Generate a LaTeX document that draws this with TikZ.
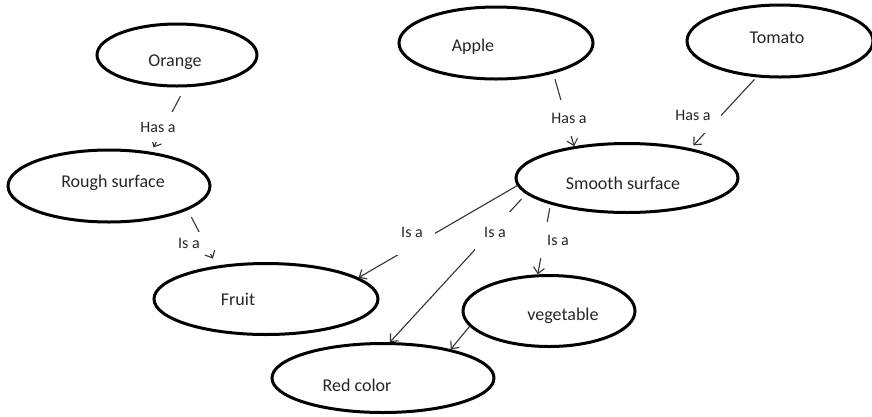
\documentclass[tikz,border=0pt]{standalone}
\usepackage{fontspec}
\setmainfont{Carlito}
\usetikzlibrary{arrows.meta, shapes.geometric}
\definecolor{inkcol}{HTML}{262626}
\definecolor{linkcol}{HTML}{333333}
\tikzset{
  cnode/.style={ellipse, draw=black, line width=3pt, inner sep=0pt},
  ctext/.style={text=inkcol, font=\fontsize{18}{20}\selectfont, inner sep=0pt},
  rel/.style={fill=white, inner sep=0pt, text=inkcol, font=\fontsize{16}{18}\selectfont},
  link/.style={draw=linkcol, line width=1.1pt, -{Straight Barb[length=6pt, width=11pt]}},
}

\begin{document}
\begin{tikzpicture}[x=1pt, y=-1pt]
  \useasboundingbox (0,0) rectangle (872,416);
  % concepts
  \node[cnode, minimum width=160pt, minimum height=62pt, label={[ctext, shift={(-2,7)}]center:Orange}] (orange) at (177,55) {};
  \node[cnode, minimum width=194pt, minimum height=72pt, label={[ctext, shift={(-23,4)}]center:Apple}] (apple) at (496,43) {};
  \node[cnode, minimum width=186pt, minimum height=72pt, label={[ctext, shift={(-3,-3)}]center:Tomato}] (tomato) at (780,41) {};
  \node[cnode, minimum width=202pt, minimum height=72pt, label={[ctext, shift={(4,-3)}]center:Rough surface}] (rough) at (109,186) {};
  \node[cnode, minimum width=222pt, minimum height=69pt, label={[ctext, shift={(-4,5)}]center:Smooth surface}] (smooth) at (627,178) {};
  \node[cnode, minimum width=224pt, minimum height=71pt, label={[ctext, shift={(-28,0)}]center:Fruit}] (fruit) at (266,299) {};
  \node[cnode, minimum width=172pt, minimum height=71pt, label={[ctext, shift={(14,5)}]center:vegetable}] (veg) at (549,311) {};
  \node[cnode, minimum width=222pt, minimum height=69pt, label={[ctext, shift={(-26,7)}]center:Red color}] (red) at (383,378) {};

  % relations
  \draw[link, shorten <=10pt, shorten >=5pt] (orange.-76) -- (rough.39)
    node[rel, minimum width=36pt, minimum height=30pt] at (158,127) {Has a};
  \draw[link, shorten <=8pt, shorten >=8pt] (rough.-17) -- (fruit.146)
    node[rel, minimum width=48pt, minimum height=22pt] at (189,243) {Is a};
  \draw[link, shorten <=6pt] (apple.-28) -- (smooth.149)
    node[rel, minimum width=40pt, minimum height=36pt] at (569,118) {Has a};
  \draw[link, shorten <=3pt, shorten >=4pt] (tomato.-123) -- (smooth.25)
    node[rel, minimum width=56pt, minimum height=36pt] at (693,115) {Has a};
  \draw[link] (smooth.-176) -- (fruit.13)
    node[rel, minimum width=46pt, minimum height=46pt] at (412,232) {Is a};
  \draw[link, shorten <=7pt] (smooth.-171) -- (red.79)
    node[rel, minimum width=40pt, minimum height=40pt] at (495,232) {Is a};
  \draw[link, shorten <=4pt] (smooth.-161) -- (veg.107)
    node[rel, minimum width=40pt, minimum height=36pt] at (558,240) {Is a};
  \draw[link] (veg.-169) -- (red.23);
\end{tikzpicture}
\end{document}
